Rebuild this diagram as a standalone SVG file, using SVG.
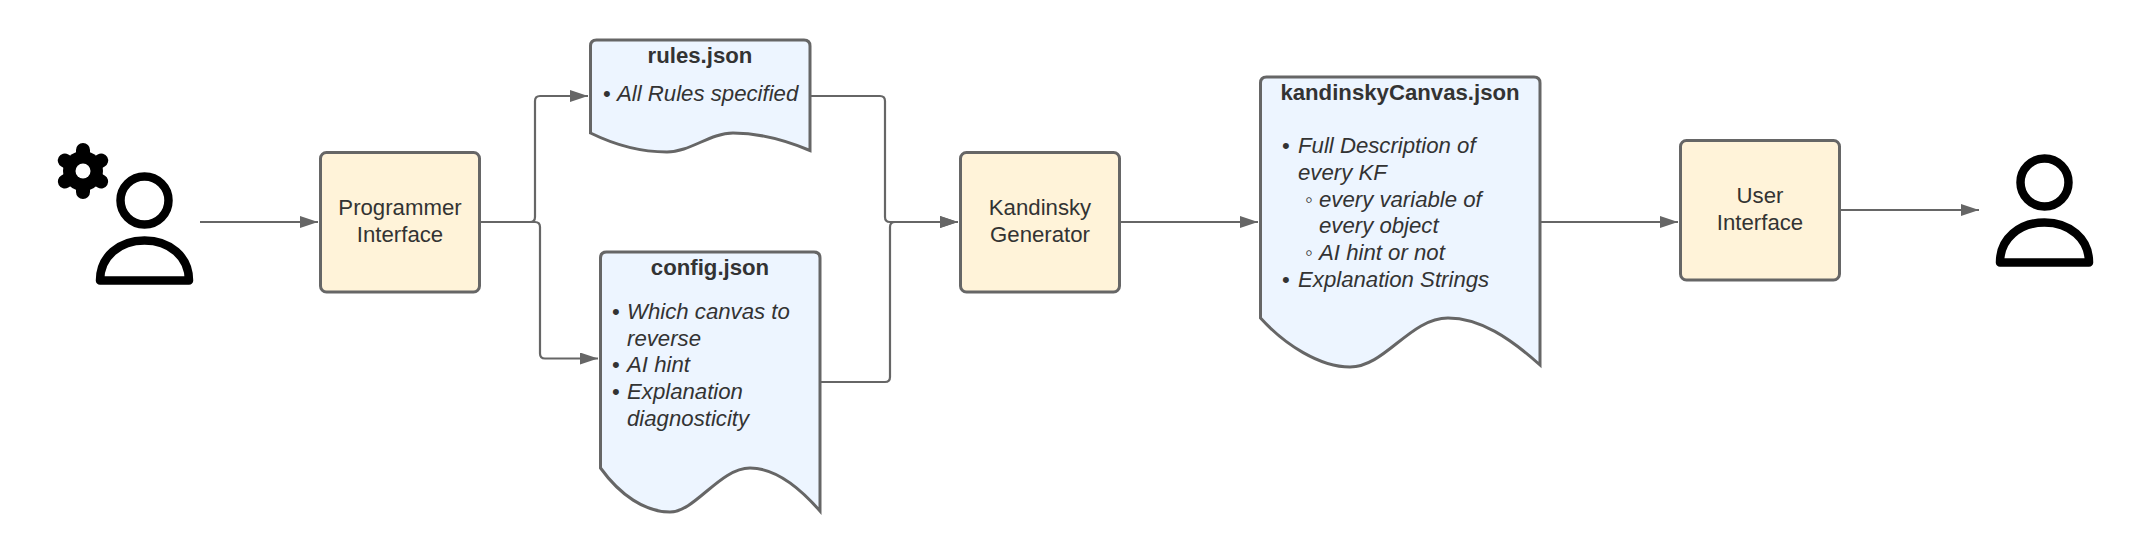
<svg xmlns="http://www.w3.org/2000/svg" width="2148" height="552" viewBox="0 0 2148 552">
<style>
text{font-family:"Liberation Sans",Arial,sans-serif;font-size:22.2px;fill:#333}
.c{text-anchor:middle}
.b{font-weight:bold}
.i{font-style:italic}
.box{fill:#fff3d9;stroke:#666;stroke-width:3}
.doc{fill:#edf5ff;stroke:#666;stroke-width:3;stroke-linejoin:miter}
.con{fill:none;stroke:#666;stroke-width:2.2}
.ic{fill:none;stroke:#000;stroke-width:8.500;stroke-linejoin:round}
</style>
<defs>
<marker id="a" markerUnits="userSpaceOnUse" markerWidth="18" markerHeight="12" refX="18" refY="6" orient="auto"><path d="M0 0L18 6L0 12Z" fill="#666"/></marker>
<g id="person"><circle cx="0" cy="0" r="24" class="ic"/><path class="ic" d="M-44.5 80C-44.500 56 -25 40 0 40C25 40 44.500 56 44.500 80Z"/></g>
</defs>
<rect width="2148" height="552" fill="#fff"/>
<g id="connectors">
<path class="con" marker-end="url(#a)" d="M200 222H318"/>
<path class="con" marker-end="url(#a)" d="M480 222H530Q535 222 535 217V101Q535 96 540 96H588"/>
<path class="con" marker-end="url(#a)" d="M480 222H535Q540 222 540 227V353.500Q540 358.500 545 358.500H598"/>
<path class="con" marker-end="url(#a)" d="M811 96H880Q885 96 885 101V217Q885 222 890 222H958"/>
<path class="con" marker-end="url(#a)" d="M821 382H885Q890 382 890 377V227Q890 222 895 222H958"/>
<path class="con" marker-end="url(#a)" d="M1120 222H1258"/>
<path class="con" marker-end="url(#a)" d="M1541 222H1678"/>
<path class="con" marker-end="url(#a)" d="M1841 210H1979"/>
</g>
<g id="programmer">
<use href="#person" x="144.500" y="200.500"/>
<g id="gear" fill="#000" stroke="#000"><circle cx="83" cy="171" r="20" stroke="none"/><path stroke-width="14" stroke-linecap="round" d="M83 150V192M64.800 160.500L101.200 181.500M64.800 181.500L101.200 160.500"/><circle cx="83" cy="171" r="7.500" fill="#fff" stroke="none"/></g>
</g>
<g id="programmer-interface"><rect class="box" x="320.500" y="152.500" width="159" height="139.500" rx="6"/><text class="c" x="400" y="214.500">Programmer</text><text class="c" x="400" y="241.500">Interface</text></g>
<g id="rules-json"><path class="doc" d="M590.500 133V46Q590.500 40 596.500 40H804Q810 40 810 46V150.500C785 140 760 133 733 133C710 133 690 152 667 152C640 152 615 145 590.500 133Z"/>
<text class="c b" x="700" y="63">rules.json</text><text x="603" y="101">•</text><text class="i" x="617" y="101">All Rules specified</text></g>
<g id="config-json"><path class="doc" d="M600.500 468V258Q600.500 252 606.500 252H814Q820 252 820 258V511C800 488 775 468 750 468C720 468 695 512 670 512C645 512 620 495 600.500 468Z"/>
<text class="c b" x="710" y="275">config.json</text>
<text x="612" y="319">•</text><text class="i" x="627" y="319">Which canvas to</text><text class="i" x="627" y="345.700">reverse</text>
<text x="612" y="372.400">•</text><text class="i" x="627" y="372.400">AI hint</text>
<text x="612" y="399">•</text><text class="i" x="627" y="399">Explanation</text><text class="i" x="627" y="425.700">diagnosticity</text></g>
<g id="kandinsky-generator"><rect class="box" x="960.500" y="152.500" width="159" height="139.500" rx="6"/><text class="c" x="1040" y="214.500">Kandinsky</text><text class="c" x="1040" y="241.500">Generator</text></g>
<g id="kandinsky-canvas"><path class="doc" d="M1260.500 318V83Q1260.500 77 1266.500 77H1534Q1540 77 1540 83V365C1510 338 1480 318 1448 318C1410 318 1385 367 1350 367C1320 367 1285 345 1260.500 318Z"/>
<text class="c b" x="1400" y="100">kandinskyCanvas.json</text>
<text x="1282" y="153.300">•</text><text class="i" x="1298" y="153.300">Full Description of</text><text class="i" x="1298" y="180">every KF</text>
<text x="1305" y="206.700">◦</text><text class="i" x="1319" y="206.700">every variable of</text><text class="i" x="1319" y="233.300">every object</text>
<text x="1305" y="260">◦</text><text class="i" x="1319" y="260">AI hint or not</text>
<text x="1282" y="286.700">•</text><text class="i" x="1298" y="286.700">Explanation Strings</text></g>
<g id="user-interface"><rect class="box" x="1680.500" y="140.500" width="159" height="139.500" rx="6"/><text class="c" x="1760" y="202.500">User</text><text class="c" x="1760" y="229.500">Interface</text></g>
<g id="user"><use href="#person" x="2044.500" y="182.500"/></g>
</svg>
